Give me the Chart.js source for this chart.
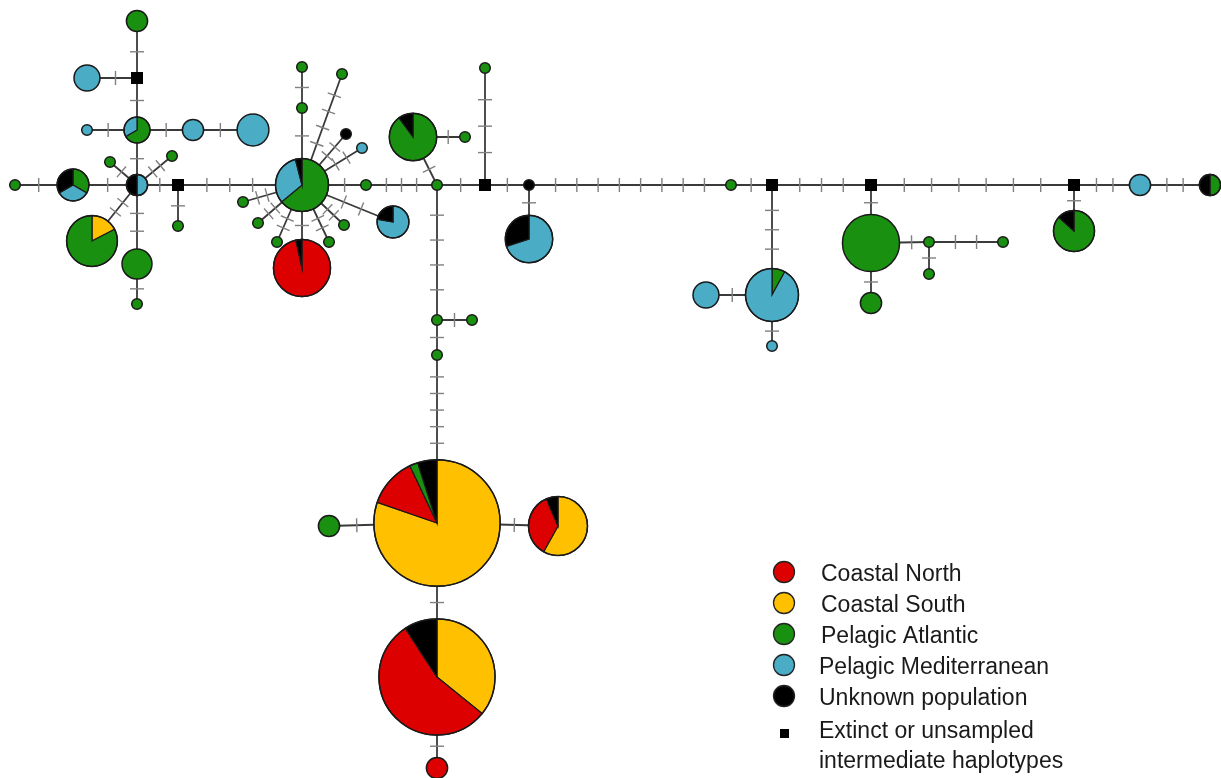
<!DOCTYPE html>
<html><head><meta charset="utf-8">
<script src="https://cdn.jsdelivr.net/npm/chart.js@4.4.1/dist/chart.umd.min.js"></script>
<style>html,body{margin:0;padding:0;background:#fff;}#wrap{position:relative;width:1221px;height:778px;}</style>
</head><body><div id="wrap"><canvas id="c"></canvas></div>
<script>
// ---- Haplotype network data (network coordinates, counts per population) ----
const hapIds = ['H1','H2','H3','H4','H5','H6','H7','H8','H9','H10','H11','H12','H13','H14','H15','H16','H17','H18','H19','H20','H21','H22','H23','H24','H25','H26','H27','H28','H29','H30','H31','H32','H33','H34','H35','H36','H37','H38','H39','H40','H41','H42','H43','H44','H45','H46','H47','H48','H49','H50','H51','H52','H53','H54','H55'];
const hapX = [15,73,137,137,137,87,87,193,253,110,172,92,137,137,178,302,302,302,342,346,362,366,393,344,329,302,277,258,243,437,413,465,485,529,529,731,772,706,772,871,871,929,1003,929,1074,1140,1210,437,329,558,437,437,437,472,437];
const hapY = [185,185,185,130,21,78,130,130,130,162,156,241,264,304,226,185,108,67,74,134,148,185,222,225,242,268,242,223,202,185,137,137,68,185,239,185,295,295,346,243,303,242,242,274,231,185,185,523,526,526,677,768,320,320,355];
const coastalNorth    = [0,0,0,0,0,0,0,0,0,0,0,0,0,0,0,0,0,0,0,0,0,0,0,0,0,28,0,0,0,0,0,0,0,0,0,0,0,0,0,0,0,0,0,0,0,0,0,18,0,11,66,4,0,0,0];
const coastalSouth    = [0,0,0,0,0,0,0,0,0,0,0,4,0,0,0,0,0,0,0,0,0,0,0,0,0,0,0,0,0,0,0,0,0,0,0,0,0,0,0,0,0,0,0,0,0,0,0,114,0,18,43,0,0,0,0];
const pelagicAtlantic = [1,3,0,4,4,0,0,0,0,1,1,19,8,1,1,16,1,1,1,0,0,1,0,1,1,0,1,1,1,1,18,1,1,0,0,1,2,0,0,29,4,1,1,1,13,0,2,3,4,0,0,0,1,1,1];
const pelagicMed      = [0,3,2,2,0,6,1,4,9,0,0,0,0,0,0,8,0,0,0,0,1,0,7,0,0,0,0,0,0,0,0,0,0,0,14,0,23,6,1,0,0,0,0,0,0,4,0,0,0,0,0,0,0,0,0];
const unknownPop      = [0,3,2,0,0,0,0,0,0,0,0,0,0,0,0,1,0,0,0,1,0,0,2,0,0,1,0,0,0,0,2,0,0,1,6,0,0,0,0,0,0,0,0,0,2,0,2,7,0,2,11,0,0,0,0];

// median vectors (extinct or unsampled haplotypes)
const medianIds = ['M1','M2','M3','M4','M5','M6'];
const medianX = [178,137,485,772,871,1074];
const medianY = [185,78,185,185,185,185];

// links and number of mutational steps
const edgeFrom  = ['H1','H2','H3','H3','H4','M2','M2','H4','H4','H8','H3','H3','H3','H3','H13','M1','M1','H16','H17','H16','H16','H16','H16','H16','H16','H16','H16','H16','H16','H16','H22','H30','H31','H30','M3','M3','H34','H34','H36','M4','H37','H37','M4','M5','H40','H40','H42','H42','M5','M6','M6','H46','H30','H53','H53','H55','H48','H48','H48','H51'];
const edgeTo    = ['H2','H3','M1','H4','M2','H5','H6','H7','H8','H9','H10','H11','H12','H13','H14','H15','H16','H17','H18','H19','H20','H21','H22','H23','H24','H25','H26','H27','H28','H29','H30','H31','H32','M3','H33','H34','H35','H36','M4','H37','H38','H39','M5','H40','H41','H42','H43','H44','M6','H45','H46','H47','H53','H54','H55','H48','H49','H50','H51','H52'];
const edgeSteps = [1,1,1,1,1,1,1,1,1,1,1,2,2,2,1,1,3,1,1,4,2,2,1,2,2,2,1,2,2,2,3,1,1,1,3,1,1,8,1,3,1,1,3,1,1,1,2,1,6,1,2,2,4,1,1,5,1,1,1,1];

const legendLabels = ['Coastal North','Coastal South','Pelagic Atlantic','Pelagic Mediterranean','Unknown population'];
const medianLegend = ['Extinct or unsampled','intermediate haplotypes'];

// ---- styles ----
const popColors = ['#dd0000','#ffc000','#1a9010','#4bacc6','#000000'];
const sliceOrder = [1,0,2,3,4];
const unitRadius = 5.3;

function counts(i){ return [coastalNorth[i],coastalSouth[i],pelagicAtlantic[i],pelagicMed[i],unknownPop[i]]; }
function vertex(id){
  let i = hapIds.indexOf(id);
  if (i >= 0) { const t = counts(i).reduce((a,b)=>a+b,0); return {x:hapX[i], y:hapY[i], r:unitRadius*Math.sqrt(t), i}; }
  i = medianIds.indexOf(id);
  return {x:medianX[i], y:medianY[i], r:6, i:-1};
}

const edgeDatasets = edgeFrom.map((f,k)=>{
  const a = vertex(f), b = vertex(edgeTo[k]);
  return {data:[{x:a.x,y:a.y},{x:b.x,y:b.y}], showLine:true, borderColor:'#3a3a3a', borderWidth:1.8, pointRadius:0, order:5};
});

const networkPlugin = {
  id:'network',
  afterDatasetsDraw(chart){
    const ctx = chart.ctx, xs = chart.scales.x, ys = chart.scales.y;
    ctx.save();
    // mutation ticks
    edgeFrom.forEach((f,k)=>{
      const a = vertex(f), b = vertex(edgeTo[k]);
      const ax = xs.getPixelForValue(a.x), ay = ys.getPixelForValue(a.y);
      const bx = xs.getPixelForValue(b.x), by = ys.getPixelForValue(b.y);
      const L = Math.hypot(bx-ax, by-ay), ux = (bx-ax)/L, uy = (by-ay)/L;
      const start = a.r, end = L - b.r, n = edgeSteps[k];
      ctx.strokeStyle = '#808080'; ctx.lineWidth = 1.4;
      for (let j=1;j<=n;j++){
        const d = start + (end-start)*j/(n+1);
        const px = ax+ux*d, py = ay+uy*d;
        ctx.beginPath(); ctx.moveTo(px-uy*7, py+ux*7); ctx.lineTo(px+uy*7, py-ux*7); ctx.stroke();
      }
    });
    // pies
    hapIds.forEach((id,i)=>{
      const c = counts(i), tot = c.reduce((a,b)=>a+b,0);
      const cx = xs.getPixelForValue(hapX[i]), cy = ys.getPixelForValue(hapY[i]);
      const r = unitRadius*Math.sqrt(tot);
      let a0 = -Math.PI/2;
      const multi = c.filter(v=>v>0).length > 1;
      sliceOrder.forEach(k=>{
        if (!c[k]) return;
        const a1 = a0 + c[k]/tot*Math.PI*2;
        ctx.beginPath(); ctx.moveTo(cx,cy); ctx.arc(cx,cy,r,a0,a1); ctx.closePath();
        ctx.fillStyle = popColors[k]; ctx.fill();
        if (multi){ ctx.strokeStyle='#1a1a1a'; ctx.lineWidth=1.2; ctx.stroke(); }
        a0 = a1;
      });
      ctx.beginPath(); ctx.arc(cx,cy,r,0,Math.PI*2); ctx.strokeStyle='#1a1a1a'; ctx.lineWidth=1.5; ctx.stroke();
    });
    // legend
    ctx.font = '23px "Liberation Sans", Arial, sans-serif';
    ctx.textBaseline = 'alphabetic';
    legendLabels.forEach((t,k)=>{
      const cy = 572 + k*31;
      ctx.beginPath(); ctx.arc(784, cy, 10.5, 0, Math.PI*2);
      ctx.fillStyle = popColors[k]; ctx.fill(); ctx.strokeStyle='#222'; ctx.lineWidth=1.3; ctx.stroke();
      ctx.fillStyle = '#1a1a1a'; ctx.fillText(t, 821 - (k>2?2:0), cy + 9);
    });
    ctx.fillStyle = '#000'; ctx.fillRect(780, 729, 9, 9);
    ctx.fillStyle = '#1a1a1a';
    ctx.fillText(medianLegend[0], 819, 738);
    ctx.fillText(medianLegend[1], 819, 768);
    ctx.restore();
  }
};

new Chart(document.getElementById('c'), {
  type:'scatter',
  data:{ datasets:[
    {data: medianIds.map((id,i)=>({x:medianX[i], y:medianY[i]})), pointStyle:'rect', pointRadius:8.5, backgroundColor:'#000', borderColor:'#000', borderWidth:0, order:0}
  ].concat(edgeDatasets)},
  options:{
    responsive:true, maintainAspectRatio:false, animation:false,
    layout:{padding:0, autoPadding:false},
    plugins:{legend:{display:false}, tooltip:{enabled:false}},
    scales:{
      x:{type:'linear', min:0, max:1221, display:false},
      y:{type:'linear', min:0, max:778, reverse:true, display:false}
    },
    events:[]
  },
  plugins:[networkPlugin]
});
</script>
</body></html>
